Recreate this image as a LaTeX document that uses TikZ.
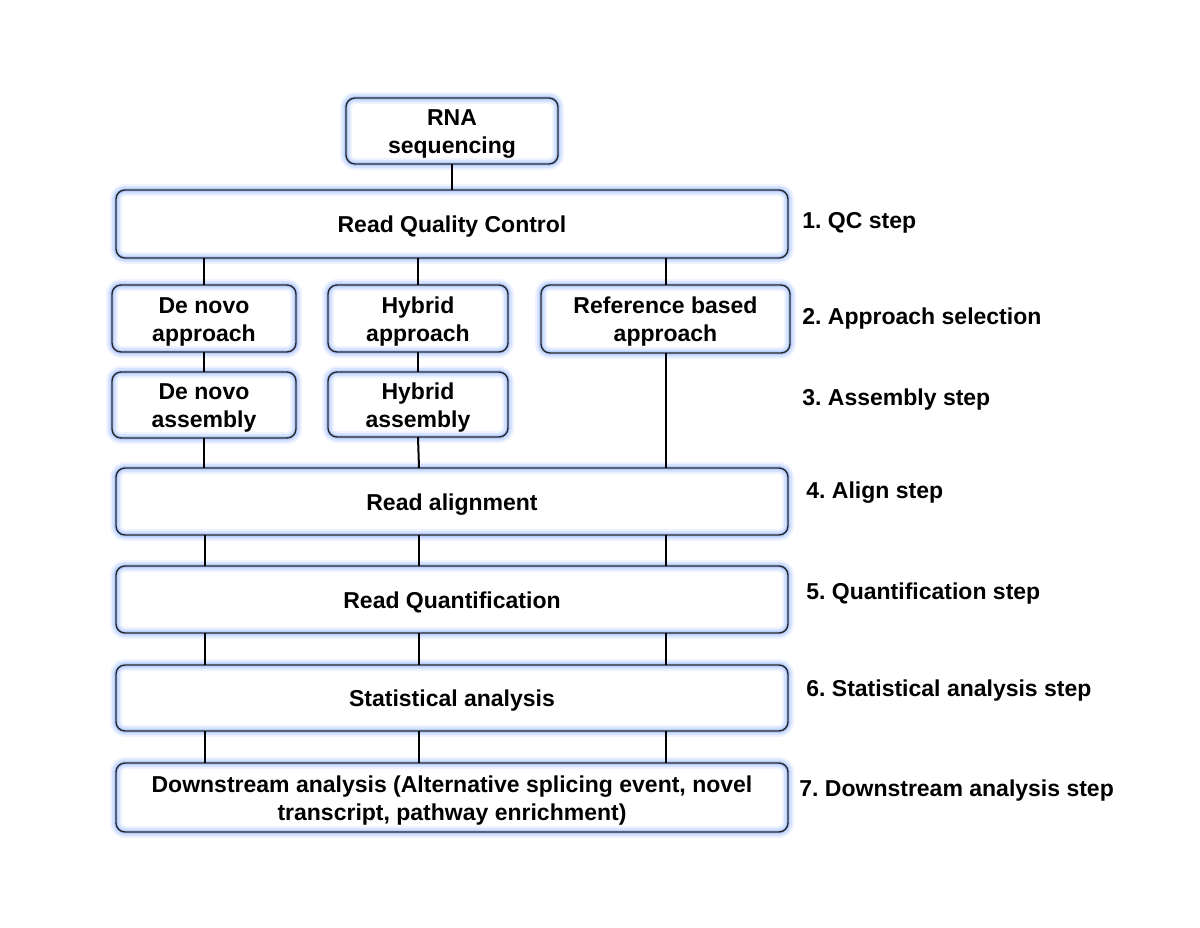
\documentclass[tikz,border=0pt]{standalone}
\usepackage{fontspec}
\setmainfont{Liberation Sans}
\definecolor{glow}{RGB}{110,155,255}
\begin{document}
\begin{tikzpicture}[x=0.5pt,y=-0.5pt,
  box/.style={rounded corners=4.5pt, inner sep=0pt, outer sep=0pt,
    preaction={fill=white},
    draw=glow!12, line width=6pt,
    postaction={draw=glow!28, line width=4pt},
    postaction={draw=glow!50, line width=2pt},
    postaction={draw=black!85, line width=0.7pt}},
  txt/.style={font=\fontsize{11.5}{14}\selectfont\bfseries\frenchspacing, align=center, inner sep=0pt},
  lbl/.style={anchor=west, inner sep=0pt, font=\fontsize{11.5}{14}\selectfont\bfseries\frenchspacing},
  conn/.style={line width=1pt, black}]
\useasboundingbox (0,0) rectangle (1200,927);
\node[box, minimum width=106pt, minimum height=33pt] (rna) at (452,131) {};
\node[box, minimum width=336pt, minimum height=34pt] (qc) at (452,224) {};
\node[box, minimum width=92pt, minimum height=33.5pt] (dna) at (204,318.5) {};
\node[box, minimum width=90pt, minimum height=33.5pt] (hya) at (418,318.5) {};
\node[box, minimum width=124.5pt, minimum height=34pt] (ref) at (665.5,319) {};
\node[box, minimum width=92pt, minimum height=33pt] (dns) at (204,405) {};
\node[box, minimum width=90pt, minimum height=32.5pt] (hys) at (418,404.5) {};
\node[box, minimum width=336pt, minimum height=33.5pt] (aln) at (452,501.5) {};
\node[box, minimum width=336pt, minimum height=33.5pt] (qnt) at (452,599.5) {};
\node[box, minimum width=336pt, minimum height=33pt] (sta) at (452,698) {};
\node[box, minimum width=336pt, minimum height=34.5pt] (dwn) at (452,797.5) {};

\node[txt] (rnaT) at ([yshift=-1.5pt]rna.center) {RNA\\sequencing};
\node[txt] (qcT) at ([yshift=-1.5pt]qc.center) {Read Quality Control};
\node[txt] (dnaT) at ([yshift=-1.5pt]dna.center) {De novo\\approach};
\node[txt] (hyaT) at ([yshift=-1.5pt]hya.center) {Hybrid\\approach};
\node[txt] (refT) at ([yshift=-1.5pt]ref.center) {Reference based\\approach};
\node[txt] (dnsT) at ([yshift=-1.5pt]dns.center) {De novo\\assembly};
\node[txt] (hysT) at ([yshift=-1.5pt]hys.center) {Hybrid\\assembly};
\node[txt] (alnT) at ([yshift=-1.5pt]aln.center) {Read alignment};
\node[txt] (qntT) at ([yshift=-1.5pt]qnt.center) {Read Quantification};
\node[txt] (staT) at ([yshift=-1.5pt]sta.center) {Statistical analysis};
\node[txt] (dwnT) at ([yshift=-1.5pt]dwn.center) {Downstream analysis (Alternative splicing event, novel\\transcript, pathway enrichment)};

\coordinate (c1) at (205,0);
\coordinate (c2) at (419,0);
\coordinate (c3) at (666,0);

\draw[conn] (rna.south) -- (rna.south |- qc.north);
\draw[conn] (qc.south -| dna.north) -- (dna.north);
\draw[conn] (qc.south -| hya.north) -- (hya.north);
\draw[conn] (qc.south -| ref.north) -- (ref.north);
\draw[conn] (dna.south) -- (dns.north);
\draw[conn] (hya.south) -- (hys.north);
\draw[conn] (dns.south) -- (dns.south |- aln.north);
\draw[conn] (hys.south) -- (aln.north -| c2);
\draw[conn] (ref.south) -- (ref.south |- aln.north);
\foreach \a/\b in {aln/qnt, qnt/sta, sta/dwn}{
  \foreach \c in {c1,c2,c3}{
    \draw[conn] (\a.south -| \c) -- (\b.north -| \c);
  }
}

\node[lbl] (l1) at (802,223) {1. QC step};
\node[lbl] (l2) at (802,319) {2. Approach selection};
\node[lbl] (l3) at (802,400) {3. Assembly step};
\node[lbl] (l4) at (806,493) {4. Align step};
\node[lbl] (l5) at (806,594) {5. Quantification step};
\node[lbl] (l6) at (806,691) {6. Statistical analysis step};
\node[lbl] (l7) at (799,791) {7. Downstream analysis step};
\end{tikzpicture}
\end{document}
